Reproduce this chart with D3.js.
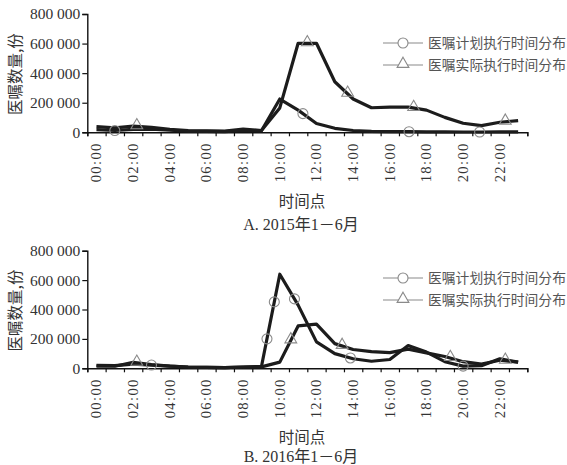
<!DOCTYPE html>
<html><head><meta charset="utf-8">
<script src="https://cdn.jsdelivr.net/npm/d3@7"></script>
<style>
html,body{margin:0;padding:0;background:#fff;}
svg{display:block;font-family:"Liberation Serif","Noto Sans CJK SC",serif;}
</style></head>
<body><svg id="c" width="567" height="465"></svg>
<script>
// ---- data ----
const hours = d3.range(0, 24);
const xTickLabels = ["00:00","02:00","04:00","06:00","08:00","10:00","12:00","14:00","16:00","18:00","20:00","22:00"];
const yTicks = [0, 200000, 400000, 600000, 800000];
const legendLabels = ["医嘱计划执行时间分布", "医嘱实际执行时间分布"];
const yTitle = "医嘱数量,份";
const xTitle = "时间点";
const panelTitles = ["A. 2015年1－6月", "B. 2016年1－6月"];

const planned2015 = [18000,12000,20000,22000,14000,8000,6000,5000,12000,10000,225000,150000,60000,27000,12000,6000,5000,4000,3000,3000,2000,2000,3000,3000];
const actual2015  = [38000,30000,42000,34000,20000,11000,9000,8000,22000,12000,165000,602000,602000,342000,225000,166000,170000,170000,150000,101000,61000,45000,68000,79000];
const planned2016 = [20000,18000,28000,22000,15000,9000,6000,5000,9000,12000,640000,430000,180000,100000,65000,48000,60000,155000,110000,45000,15000,18000,65000,42000];
const actual2016  = [15000,14000,40000,25000,15000,9000,6000,5000,9000,10000,42000,288000,300000,168000,128000,113000,107000,130000,105000,80000,45000,28000,55000,42000];

// fractional hours where markers sit on each line
const circleAt2015 = [1, 11.26, 17.05, 20.9];
const triangleAt2015 = [2.2, 11.5, 13.7, 17.3, 22.3];
const circleAt2016 = [3.0, 9.3, 9.7, 10.8, 13.85, 20.0];
const triangleAt2016 = [2.2, 10.6, 13.4, 19.3, 22.3];

const panels = [
  {planned: planned2015, actual: actual2015, circ: circleAt2015, tri: triangleAt2015, top: 14, bottom: 132.3, title: panelTitles[0], xTitleY: 207, titleY: 229.5, legY: 43},
  {planned: planned2016, actual: actual2016, circ: circleAt2016, tri: triangleAt2016, top: 250.7, bottom: 368.3, title: panelTitles[1], xTitleY: 443, titleY: 462, legY: 278}
];

const svg = d3.select("#c");
const x = d3.scaleLinear().domain([0, 24]).range([87.3, 527.3]);
const textCol = "#333";
const markCol = "#8a8a8a";

function interp(arr, h) {
  const i = Math.floor(h), f = h - i;
  if (i >= arr.length - 1) return arr[arr.length - 1];
  return arr[i] + (arr[i + 1] - arr[i]) * f;
}

panels.forEach(p => {
  const y = d3.scaleLinear().domain([0, 800000]).range([p.bottom, p.top]);
  const g = svg.append("g");

  // y axis
  const ya = g.append("g").attr("transform", `translate(${x(0)},0)`)
    .call(d3.axisLeft(y).tickValues(yTicks).tickSize(5).tickPadding(2)
      .tickFormat(d => d3.format(",")(d).replace(/,/g, " ")));
  ya.select(".domain").attr("stroke", "#111").attr("stroke-width", 1.4);
  ya.selectAll(".tick line").attr("stroke", "#111").attr("stroke-width", 1.2);
  ya.selectAll(".tick text").attr("fill", textCol).style("font-size", "15.5px")
    .style("font-family", "Liberation Serif");

  // x axis
  const xa = g.append("g").attr("transform", `translate(0,${p.bottom})`)
    .call(d3.axisBottom(x).tickValues(d3.range(0, 25)).tickSize(4).tickFormat(""));
  xa.select(".domain").attr("stroke", "#111").attr("stroke-width", 1.4);
  xa.selectAll(".tick line").attr("stroke", "#111").attr("stroke-width", 1.2);

  // x labels (rotated)
  g.selectAll(".xl").data(xTickLabels).enter().append("text")
    .attr("transform", (d, i) => `translate(${x(i * 2 + 0.5) + 5},${p.bottom + 10}) rotate(-90)`)
    .attr("text-anchor", "end").attr("fill", textCol)
    .style("font-size", "14.5px").style("letter-spacing", "1.4px")
    .style("font-family", "Liberation Serif").text(d => d);

  // lines
  const line = d3.line().x((d, i) => x(i + 0.5)).y(d => y(d));
  [p.planned, p.actual].forEach(s => {
    g.append("path").datum(s).attr("d", line).attr("fill", "none")
      .attr("stroke", "#1c1c1c").attr("stroke-width", 3.2)
      .attr("stroke-linejoin", "round");
  });

  // markers
  g.selectAll(".ci").data(p.circ).enter().append("circle")
    .attr("cx", d => x(d + 0.5)).attr("cy", d => y(interp(p.planned, d)))
    .attr("r", 5).attr("fill", "none").attr("stroke", markCol).attr("stroke-width", 1.1);
  const triSym = d3.symbol().type(d3.symbolTriangle).size(60);
  g.selectAll(".tr").data(p.tri).enter().append("path")
    .attr("d", triSym)
    .attr("transform", d => `translate(${x(d + 0.5)},${y(interp(p.actual, d)) - 1})`)
    .attr("fill", "none").attr("stroke", markCol).attr("stroke-width", 1.1);

  // y title
  g.append("text").attr("transform", `translate(21,${(p.top + p.bottom) / 2 + 1}) rotate(-90)`)
    .attr("text-anchor", "middle").attr("fill", textCol)
    .style("font-size", "15.5px").style("font-family", "Noto Sans CJK SC").text(yTitle);

  // x title & panel title
  g.append("text").attr("x", 302).attr("y", p.xTitleY).attr("text-anchor", "middle")
    .attr("fill", textCol).style("font-size", "15.5px").style("font-family", "Noto Sans CJK SC").text(xTitle);
  g.append("text").attr("x", 301).attr("y", p.titleY).attr("text-anchor", "middle")
    .attr("fill", textCol).style("font-size", "16px").text(p.title);

  // legend
  legendLabels.forEach((lab, i) => {
    const ly = p.legY + i * 22;
    const lg = g.append("g");
    lg.append("line").attr("x1", 383).attr("x2", 423).attr("y1", ly).attr("y2", ly)
      .attr("stroke", markCol).attr("stroke-width", 1.2);
    if (i === 0) {
      lg.append("circle").attr("cx", 403).attr("cy", ly).attr("r", 5)
        .attr("fill", "#fff").attr("stroke", markCol).attr("stroke-width", 1.1);
    } else {
      lg.append("path").attr("d", triSym).attr("transform", `translate(403,${ly - 1})`)
        .attr("fill", "#fff").attr("stroke", markCol).attr("stroke-width", 1.1);
    }
    lg.append("text").attr("x", 428).attr("y", ly + 5).attr("fill", "#555")
      .style("font-size", "13.8px").style("font-family", "Noto Sans CJK SC").text(lab);
  });
});
</script></body></html>
